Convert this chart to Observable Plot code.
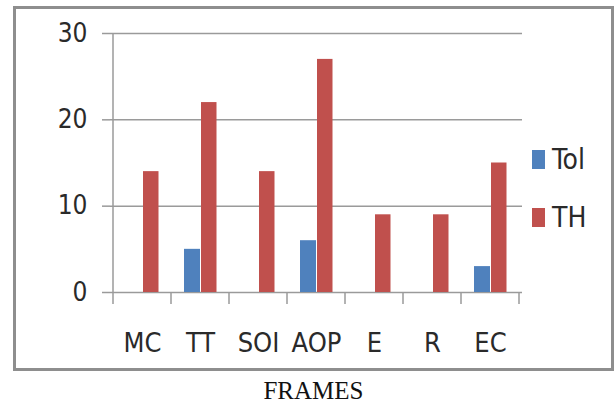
<!DOCTYPE html>
<html>
<head>
<meta charset="utf-8">
<script src="https://cdn.jsdelivr.net/npm/d3@7"></script>
<script src="https://cdn.jsdelivr.net/npm/@observablehq/plot@0.6"></script>
<style>
  html, body { margin: 0; padding: 0; background: #fff; }
  #page { position: relative; width: 615px; height: 404px; overflow: hidden; font-family: "Liberation Sans Narrow", "DejaVu Sans Condensed", "Liberation Sans", sans-serif; }
  #frame { position: absolute; left: 13px; top: 6px; width: 595px; height: 359px; border: 3px solid #8e8e8e; }
  #frame svg { display: block; }
  .leg { position: absolute; display: flex; align-items: center; font-size: 28px; color: #2a2a2a; }
  .sw { width: 13px; height: 19px; margin-right: 7px; }
  #xtitle { position: absolute; left: 6px; width: 615px; top: 377px; text-align: center; font-family: "Liberation Serif", "DejaVu Serif", serif; font-size: 25px; color: #111; }
</style>
</head>
<body>
<div id="page">
  <div id="frame"></div>
  <div class="leg" style="left:532px; top:143px;"><div class="sw" style="background:#4F81BD"></div>Tol</div>
  <div class="leg" style="left:532px; top:201px;"><div class="sw" style="background:#C0504D"></div>TH</div>
  <div id="xtitle">FRAMES</div>
</div>
<script>
const categories = ["MC", "TT", "SOI", "AOP", "E", "R", "EC"];
const tolValues = [0, 5, 0, 6, 0, 0, 3];
const thValues = [14, 22, 14, 27, 9, 9, 15];
const yTicks = [0, 10, 20, 30];

const tolData = categories.map((c, i) => ({category: c, value: tolValues[i]}));
const thData = categories.map((c, i) => ({category: c, value: thValues[i]}));

const gridColor = "#9a9a9a";

function boundaryTicks(index, scales, values, dimensions) {
  const g = d3.create("svg:g").attr("stroke", gridColor).attr("stroke-width", 1.5);
  const bw = scales.x.bandwidth();
  const y0 = scales.y(0);
  const xs = categories.map(c => scales.x(c));
  xs.push(xs[xs.length - 1] + bw);
  xs.forEach((x, i) => {
    g.append("line").attr("x1", x).attr("x2", x)
      .attr("y1", i === 0 ? scales.y(30) : y0).attr("y2", y0 + 12);
  });
  return g.node();
}

const chart = Plot.plot({
  width: 595,
  height: 359,
  marginLeft: 94,
  marginRight: 89,
  marginTop: 24,
  marginBottom: 76,
  style: {fontFamily: '"Liberation Sans Narrow", "DejaVu Sans Condensed", "Liberation Sans", sans-serif', color: "#2a2a2a", background: "#fff"},
  x: {domain: categories, padding: 0},
  y: {domain: [0, 30]},
  marks: [
    Plot.ruleY(yTicks, {stroke: gridColor, strokeWidth: 1.5}),
    Plot.barY(tolData, {x: "category", y: "value", fill: "#4F81BD", insetLeft: 13, insetRight: 29}),
    Plot.barY(thData, {x: "category", y: "value", fill: "#C0504D", insetLeft: 30, insetRight: 12.5}),
    boundaryTicks,
    Plot.axisY(yTicks, {tickSize: 8, stroke: gridColor, strokeWidth: 1.5, tickPadding: 15, fontSize: 26, label: null, fill: "#2a2a2a"}),
    Plot.axisX({tickSize: 0, tickPadding: 40, fontSize: 27, label: null, fill: "#2a2a2a"})
  ]
});
document.getElementById("frame").appendChild(chart);
</script>
</body>
</html>
